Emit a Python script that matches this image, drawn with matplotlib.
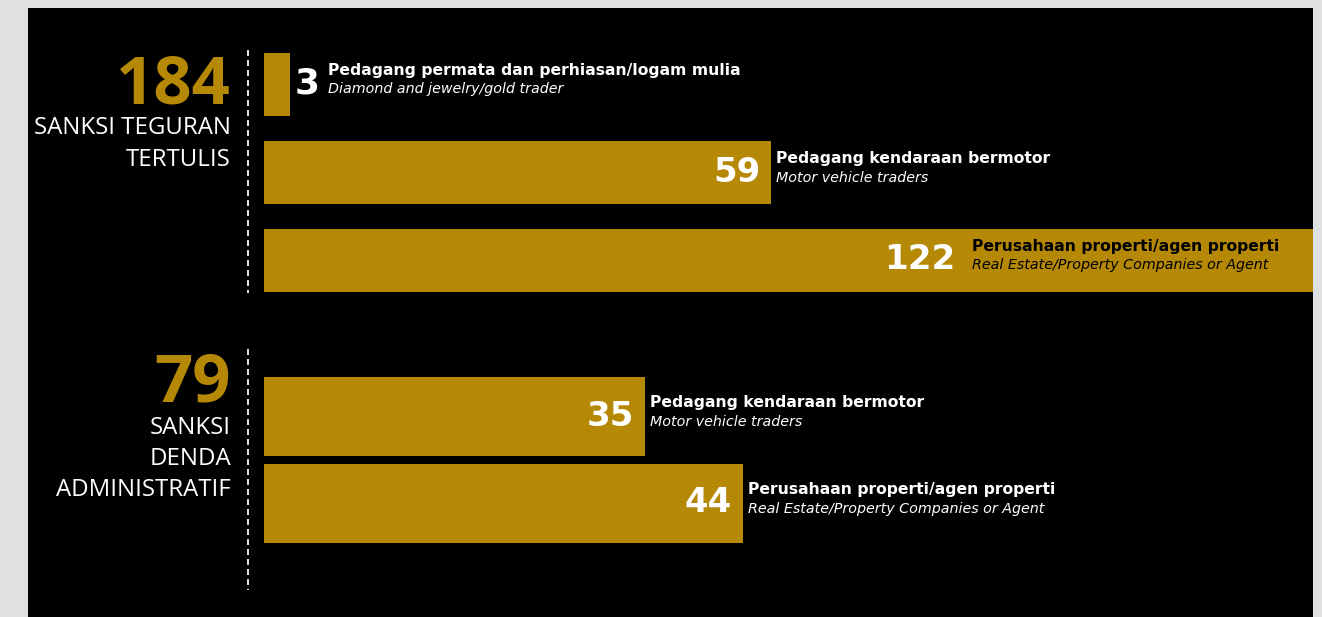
import matplotlib.pyplot as plt
from matplotlib.lines import Line2D
from matplotlib.patches import Rectangle

W, H, DPI = 1322, 617, 100

GOLD = '#b58806'
PAGE = '#dfe0e2'

# ── data ──
g1_total = 184
g1_title = ['SANKSI TEGURAN', 'TERTULIS']
g1_values = [3, 59, 122]
g1_labels = ['Pedagang permata dan perhiasan/logam mulia',
             'Pedagang kendaraan bermotor',
             'Perusahaan properti/agen properti']
g1_labels_en = ['Diamond and jewelry/gold trader',
                'Motor vehicle traders',
                'Real Estate/Property Companies or Agent']

g2_total = 79
g2_title = ['SANKSI', 'DENDA', 'ADMINISTRATIF']
g2_values = [35, 44]
g2_labels = ['Pedagang kendaraan bermotor',
             'Perusahaan properti/agen properti']
g2_labels_en = ['Motor vehicle traders',
                'Real Estate/Property Companies or Agent']

LEFT_FONT = 'Open Sans'
BAR_FONT = 'DejaVu Sans'


def pt(px):
    # pixels -> points at this dpi
    return px * 72 / DPI


def fy(y):
    # top-origin pixel -> figure fraction
    return 1 - y / H


plt.rcParams['lines.scale_dashes'] = False

fig = plt.figure(figsize=(W / DPI, H / DPI), dpi=DPI, facecolor=PAGE)
fig.add_artist(Rectangle((28 / W, 0), (1313 - 28) / W, fy(8), transform=fig.transFigure,
                         facecolor='black', edgecolor='none', zorder=0))


def add_axes_px(x0, y0, x1, y1):
    ax = fig.add_axes([x0 / W, fy(y1), (x1 - x0) / W, (y1 - y0) / H])
    ax.set_axis_off()
    ax.patch.set_alpha(0)
    return ax


def draw_group(ax, values, labels, labels_en, xmax, height, cap_frac=0.67):
    n = len(values)
    ax.barh(range(n), values, height=height, color=GOLD, zorder=2)
    ax.set_xlim(0, xmax)
    ax.set_ylim(n - 0.5, -0.5)
    for i, (v, lab, en) in enumerate(zip(values, labels, labels_en)):
        anchor = min(v, cap_frac * xmax)
        inside = v > cap_frac * xmax
        txt_col = 'black' if inside else 'white'
        if v / xmax < 0.05:
            # number sits outside a tiny bar
            ax.annotate(str(v), (v, i), xytext=(pt(5), pt(-9)), textcoords='offset points',
                        ha='left', va='baseline', color='white', fontsize=pt(36),
                        fontfamily=BAR_FONT, fontweight='bold')
            tx = pt(38)
        else:
            ax.annotate(str(v), (anchor, i), xytext=(pt(-11), pt(-9)), textcoords='offset points',
                        ha='right', va='baseline', color='white', fontsize=pt(34),
                        fontfamily=BAR_FONT, fontweight='bold')
            tx = pt(5)
        ax.annotate(lab, (anchor, i), xytext=(tx, pt(9.5)), textcoords='offset points',
                    ha='left', va='baseline', color=txt_col, fontsize=pt(15.6),
                    fontfamily=BAR_FONT, fontweight='bold')
        ax.annotate(en, (anchor, i), xytext=(tx, pt(-9)), textcoords='offset points',
                    ha='left', va='baseline', color=txt_col, fontsize=pt(14.3),
                    fontfamily=BAR_FONT, fontstyle='italic')


def draw_side(total, title, y_base, y_top, y_bot):
    fig.text(231 / W, fy(y_base), str(total), ha='right', va='baseline', color=GOLD,
             fontsize=pt(67), fontfamily=LEFT_FONT, fontweight='bold')
    for k, line in enumerate(title):
        fig.text(231 / W, fy(y_base + 31.5 * (k + 1)), line, ha='right', va='baseline',
                 color='white', fontsize=pt(24), fontfamily=LEFT_FONT)
    ln = Line2D([247.5 / W, 247.5 / W], [fy(y_top), fy(y_bot)], transform=fig.transFigure,
                color='#dcdcdc', lw=pt(2), dashes=(pt(6), pt(4)))
    fig.add_artist(ln)


ax1 = add_axes_px(264, 40.5, 1313, 304.5)
draw_group(ax1, g1_values, g1_labels, g1_labels_en, xmax=122, height=0.71)

# second block is drawn on its own, wider scale (44 spans ~479 px)
ax2 = add_axes_px(264, 373, 1313, 547)
draw_group(ax2, g2_values, g2_labels, g2_labels_en, xmax=96.4, height=0.908)

draw_side(g1_total, g1_title, 103, 50, 293)
draw_side(g2_total, g2_title, 402, 349, 590)

fig.savefig('out.png', dpi=DPI, facecolor=PAGE)
